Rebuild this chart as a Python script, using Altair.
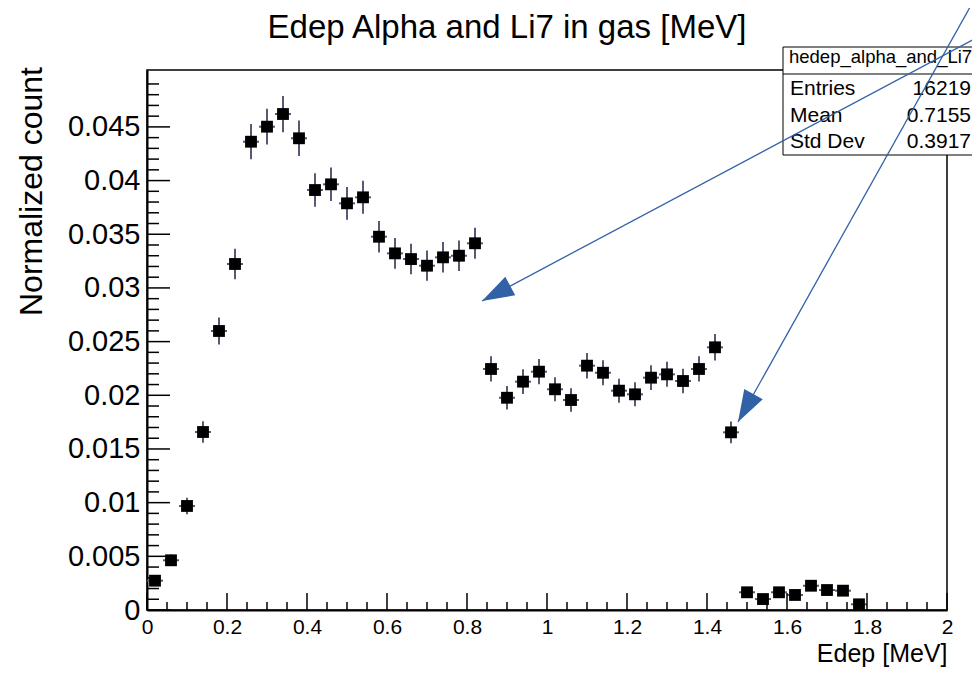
import altair as alt
import pandas as pd

FONT = "Liberation Sans"

# ---- histogram data (bin centres in MeV, normalized counts, stat. errors) ----
edep = [0.02, 0.06, 0.10, 0.14, 0.18, 0.22, 0.26, 0.30, 0.34, 0.38,
        0.42, 0.46, 0.50, 0.54, 0.58, 0.62, 0.66, 0.70, 0.74, 0.78,
        0.82, 0.86, 0.90, 0.94, 0.98, 1.02, 1.06, 1.10, 1.14, 1.18,
        1.22, 1.26, 1.30, 1.34, 1.38, 1.42, 1.46, 1.50, 1.54, 1.58,
        1.62, 1.66, 1.70, 1.74, 1.78]
counts = [0.00273, 0.00463, 0.00969, 0.01658, 0.02599, 0.03223, 0.04362, 0.04502, 0.04620, 0.04394,
          0.03912, 0.03965, 0.03788, 0.03844, 0.03477, 0.03322, 0.03269, 0.03207, 0.03285, 0.03300,
          0.03416, 0.02245, 0.01977, 0.02127, 0.02220, 0.02056, 0.01956, 0.02276, 0.02210, 0.02043,
          0.02009, 0.02164, 0.02195, 0.02133, 0.02245, 0.02447, 0.01655, 0.00165, 0.00102, 0.00165,
          0.00140, 0.00226, 0.00186, 0.00180, 0.00053]
errors = [0.000410, 0.000534, 0.000773, 0.001011, 0.001266, 0.001410, 0.001640, 0.001666, 0.001688, 0.001646,
          0.001553, 0.001564, 0.001528, 0.001540, 0.001464, 0.001431, 0.001420, 0.001406, 0.001423, 0.001426,
          0.001451, 0.001177, 0.001104, 0.001145, 0.001170, 0.001126, 0.001098, 0.001185, 0.001167, 0.001122,
          0.001113, 0.001155, 0.001163, 0.001147, 0.001177, 0.001228, 0.001010, 0.000319, 0.000251, 0.000319,
          0.000294, 0.000373, 0.000339, 0.000333, 0.000181]
bin_half_width = 0.02

# ---- axis ticks ----
x_tick_labels = [0, 0.2, 0.4, 0.6, 0.8, 1, 1.2, 1.4, 1.6, 1.8, 2]
x_minor_ticks = [round(i * 0.05, 2) for i in range(41) if i % 4 != 0]
y_tick_labels = [0, 0.005, 0.01, 0.015, 0.02, 0.025, 0.03, 0.035, 0.04, 0.045]
y_minor_ticks = [round(i * 0.001, 3) for i in range(51) if i % 5 != 0]

# ---- stats box ----
stats_name = "hedep_alpha_and_Li7"
stats_labels = ["Entries", "Mean", "Std Dev"]
stats_values = ["16219", "0.7155", "0.3917"]

# ---- annotation arrows (data coordinates: start -> tip) ----
arrow_x_start = [2.0825, 2.0675]
arrow_y_start = [0.05347, 0.05682]
arrow_x_tip = [0.8375, 1.4775]
arrow_y_tip = [0.02878, 0.01751]
arrow_angle = [242, 209]

df = pd.DataFrame({"edep": edep, "count": counts, "err": errors})
df["lo"] = df["count"] - df["err"]
df["hi"] = df["count"] + df["err"]
df["xlo"] = df["edep"] - bin_half_width
df["xhi"] = df["edep"] + bin_half_width

xs = alt.Scale(domain=[0, 2], nice=False, zero=False)
ys = alt.Scale(domain=[0, 0.0503], nice=False, zero=False)

x_axis = alt.Axis(values=x_tick_labels, format="~g", labelFontSize=21, labelPadding=6,
                  labelFlush=False, labelOverlap=False,
                  title="Edep [MeV]", titleFontSize=25, titleX=800, titleY=51,
                  titleAlign="right", titleBaseline="alphabetic")
y_axis = alt.Axis(values=y_tick_labels, format="~g", labelFontSize=29, labelPadding=7,
                  labelOverlap=False, labelFlush=False,
                  title="Normalized count", titleFontSize=32, titleAngle=270,
                  titleX=-106, titleY=121, titleAlign="center", titleBaseline="alphabetic")

def X(f):
    return alt.X(f, type="quantitative", scale=xs, axis=x_axis)

def Y(f):
    return alt.Y(f, type="quantitative", scale=ys, axis=y_axis)

base = alt.Chart(df)
ERR_COLOR = "#555a75"

vbars = base.mark_rule(color=ERR_COLOR, strokeWidth=2).encode(x=X("edep"), y=Y("lo"), y2="hi")
hbars = base.mark_rule(color=ERR_COLOR, strokeWidth=2).encode(x=X("xlo"), x2="xhi", y=Y("count"))
points = base.mark_square(size=140, color="black", opacity=1).encode(x=X("edep"), y=Y("count"))

# inside-pointing ROOT-style ticks
ymaj = alt.Chart(pd.DataFrame({"v": y_tick_labels})).mark_rule(color="black", strokeWidth=1.5).encode(
    y=Y("v"), x=alt.value(0), x2=alt.value(23))
ymin = alt.Chart(pd.DataFrame({"v": y_minor_ticks})).mark_rule(color="black", strokeWidth=1.5).encode(
    y=Y("v"), x=alt.value(0), x2=alt.value(12))
xmaj = alt.Chart(pd.DataFrame({"v": x_tick_labels})).mark_rule(color="black", strokeWidth=1.5).encode(
    x=X("v"), y=alt.value(540), y2=alt.value(523))
xmin = alt.Chart(pd.DataFrame({"v": x_minor_ticks})).mark_rule(color="black", strokeWidth=1.5).encode(
    x=X("v"), y=alt.value(540), y2=alt.value(532))

one = pd.DataFrame({"a": [0]})

title = alt.Chart(one).mark_text(text="Edep Alpha and Li7 in gas [MeV]", font=FONT, fontSize=33,
                                 align="center", baseline="alphabetic", color="black").encode(
    x=alt.value(360), y=alt.value(-32))

# stats box
box = alt.Chart(one).mark_rect(fill="white", stroke="black", strokeWidth=1).encode(
    x=alt.value(636), x2=alt.value(845), y=alt.value(-23), y2=alt.value(85))
sep = alt.Chart(one).mark_rule(color="black", strokeWidth=1).encode(
    x=alt.value(636), x2=alt.value(845), y=alt.value(4))
stat_layers = [
    alt.Chart(one).mark_text(text=stats_name, font=FONT, fontSize=18.5, align="left",
                             baseline="alphabetic", color="black").encode(x=alt.value(642), y=alt.value(-7))
]
row_y = [25, 51.7, 78.4]
for lab, val, ry in zip(stats_labels, stats_values, row_y):
    stat_layers.append(alt.Chart(one).mark_text(text=lab, font=FONT, fontSize=21, align="left",
                                                baseline="alphabetic", color="black").encode(
        x=alt.value(643), y=alt.value(ry)))
    stat_layers.append(alt.Chart(one).mark_text(text=val, font=FONT, fontSize=21, align="right",
                                                baseline="alphabetic", color="black").encode(
        x=alt.value(824), y=alt.value(ry)))

# arrows
ARROW = "#3162a6"
adf = pd.DataFrame({"xs": arrow_x_start, "ys": arrow_y_start, "xt": arrow_x_tip,
                    "yt": arrow_y_tip, "ang": arrow_angle})
alines = alt.Chart(adf).mark_rule(color=ARROW, strokeWidth=1.3).encode(
    x=X("xs"), y=Y("ys"), x2="xt", y2="yt")
aheads = alt.Chart(adf).mark_point(shape="M0,0 L-0.33,1 L0.33,1 Z", size=4096, filled=True,
                                   fill=ARROW, opacity=1, strokeWidth=0).encode(
    x=X("xt"), y=Y("yt"), angle=alt.Angle("ang:Q", scale=None))

chart = alt.layer(
    vbars, hbars, points, ymaj, ymin, xmaj, xmin, box, sep, *stat_layers, alines, aheads, title
).properties(
    width=800, height=540,
    padding={"left": 139, "top": 62, "right": 25, "bottom": 60},
    autosize=alt.AutoSizeParams(type="none"),
).configure_view(
    stroke="black", strokeWidth=1.5
).configure_axis(
    grid=False, ticks=False, domainColor="black", domainWidth=2,
    labelColor="black", titleColor="black", labelFont=FONT, titleFont=FONT,
    titleFontWeight="normal"
)

chart.save("out.html", embed_options={"renderer": "svg", "actions": False})
